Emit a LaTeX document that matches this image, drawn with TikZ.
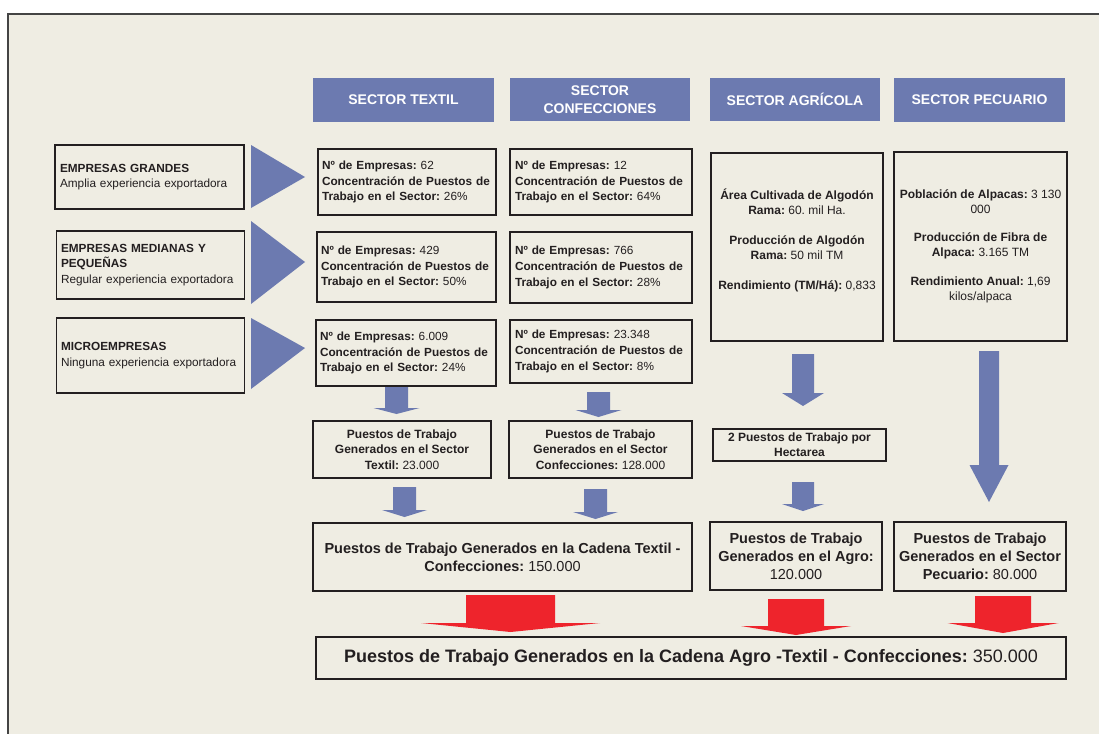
\documentclass[tikz,border=0pt]{standalone}
\usepackage{fontspec}
\setmainfont{Liberation Sans}
\definecolor{bg}{HTML}{EFEDE3}
\definecolor{ink}{HTML}{231F20}
\definecolor{frame}{HTML}{444444}
\definecolor{sblue}{HTML}{6C7AB0}
\definecolor{sred}{HTML}{EE242C}
\newcommand\blkarrow[7]{%
  \fill[#7] ({#1-#2},#4) -- ({#1+#2},#4) -- ({#1+#2},#5) -- ({#1+#3},#5) -- (#1,#6) -- ({#1-#3},#5) -- ({#1-#2},#5) -- cycle;}
\begin{document}
\frenchspacing
\begin{tikzpicture}[x=1pt,y=-1pt,
  box/.style={draw=ink, line width=1.3pt, inner sep=0pt, text=ink, font=\frenchspacing\fontsize{12}{15.6}\selectfont},
  lbox/.style={box, align=left, font=\frenchspacing\fontsize{11.8}{15.6}\selectfont},
  hdr/.style={fill=sblue, inner sep=0pt, text=white, align=center, font=\bfseries\fontsize{14}{18}\selectfont},
  bigbox/.style={box, align=center, font=\frenchspacing\fontsize{14.5}{18}\selectfont}]
\useasboundingbox (0,0) rectangle (1099,733);
\fill[white] (0,0) rectangle (1099,733);
\filldraw[fill=bg, draw=frame, line width=1.5pt] (8,14) rectangle (1120,760);

% headers
\node[hdr, minimum width=181pt, minimum height=44pt] (hT) at (403.5,100) {SECTOR TEXTIL};
\node[hdr, minimum width=180pt, minimum height=43pt] (hC) at (600,99.5) {SECTOR\\CONFECCIONES};
\node[hdr, minimum width=170pt, minimum height=43pt] (hA) at (795,99.5) {SECTOR AGRÍCOLA};
\node[hdr, minimum width=171pt, minimum height=44pt] (hP) at (979.5,100) {SECTOR PECUARIO};

% left boxes
\node[lbox, minimum width=189pt, minimum height=64pt, text width=179pt] (eG) at (149.5,177)
  {\textbf{EMPRESAS GRANDES}\\Amplia experiencia exportadora};
\node[lbox, minimum width=188pt, minimum height=68pt, text width=179pt] (eM) at (150.5,265)
  {\textbf{EMPRESAS MEDIANAS Y}\\\textbf{PEQUEÑAS}\\Regular experiencia exportadora};
\node[lbox, minimum width=188pt, minimum height=75pt, text width=179pt] (eP) at (150.5,355.5)
  {\textbf{MICROEMPRESAS}\\Ninguna experiencia exportadora};

% triangles
\fill[sblue] (251,145) -- (251,208) -- (305,177) -- cycle;
\fill[sblue] (251,221) -- (251,304) -- (305,262) -- cycle;
\fill[sblue] (251,318) -- (251,389) -- (305,348) -- cycle;

% textil column
\node[lbox, minimum width=178pt, minimum height=66pt, text width=170pt] (t1) at (407,182)
  {\textbf{Nº de Empresas:} 62\\\textbf{Concentración de Puestos de}\\\textbf{Trabajo en el Sector:} 26\%};
\node[lbox, minimum width=179pt, minimum height=70pt, text width=171pt] (t2) at (406.5,267)
  {\textbf{Nº de Empresas:} 429\\\textbf{Concentración de Puestos de}\\\textbf{Trabajo en el Sector:} 50\%};
\node[lbox, minimum width=180pt, minimum height=66pt, text width=172pt] (t3) at (406,353)
  {\textbf{Nº de Empresas:} 6.009\\\textbf{Concentración de Puestos de}\\\textbf{Trabajo en el Sector:} 24\%};

% confecciones column
\node[lbox, minimum width=182pt, minimum height=66pt, text width=172pt] (c1) at (601,182)
  {\textbf{Nº de Empresas:} 12\\\textbf{Concentración de Puestos de}\\\textbf{Trabajo en el Sector:} 64\%};
\node[lbox, minimum width=182pt, minimum height=71pt, text width=172pt] (c2) at (601,267.5)
  {\textbf{Nº de Empresas:} 766\\\textbf{Concentración de Puestos de}\\\textbf{Trabajo en el Sector:} 28\%};
\node[lbox, minimum width=182pt, minimum height=63pt, text width=172pt] (c3) at (601,351.5)
  {\textbf{Nº de Empresas:} 23.348\\\textbf{Concentración de Puestos de}\\\textbf{Trabajo en el Sector:} 8\%};

% agricola & pecuario
\node[box, minimum width=172pt, minimum height=188pt, align=center, font=\frenchspacing\fontsize{12}{15}\selectfont] (ag) at (797,247)
  {\textbf{Área Cultivada de Algodón}\\\textbf{Rama:} 60. mil Ha.\\[15pt]\textbf{Producción de Algodón}\\\textbf{Rama:} 50 mil TM\\[15pt]\textbf{Rendimiento (TM/Há):} 0,833\\[0pt]\mbox{}};
\node[box, minimum width=173pt, minimum height=189pt, align=center, font=\frenchspacing\fontsize{12}{14.5}\selectfont] (pe) at (980.5,246.5)
  {\textbf{Población de Alpacas:} 3 130\\000\\[14pt]\textbf{Producción de Fibra de}\\\textbf{Alpaca:} 3.165 TM\\[15pt]\textbf{Rendimiento Anual:} 1,69\\kilos/alpaca};

% puestos per sector
\node[box, minimum width=178pt, minimum height=57pt, align=center] (tp) at (402,449.5)
  {\textbf{Puestos de Trabajo}\\\textbf{Generados en el Sector}\\\textbf{Textil:} 23.000};
\node[box, minimum width=183pt, minimum height=57pt, align=center] (cp) at (600.5,449.5)
  {\textbf{Puestos de Trabajo}\\\textbf{Generados en el Sector}\\\textbf{Confecciones:} 128.000};
\node[box, minimum width=173pt, minimum height=32pt, align=center, font=\bfseries\fontsize{12}{15}\selectfont] (hect) at (799.5,445)
  {2 Puestos de Trabajo por\\Hectarea};

% totals
\node[bigbox, minimum width=379pt, minimum height=68pt] (cad) at (502.5,557)
  {\textbf{Puestos de Trabajo Generados en la Cadena Textil -}\\\textbf{Confecciones:} 150.000};
\node[bigbox, minimum width=172pt, minimum height=68pt] (agro) at (796,556)
  {\textbf{Puestos de Trabajo}\\\textbf{Generados en el Agro:}\\120.000};
\node[bigbox, minimum width=172pt, minimum height=69pt] (pec) at (980,556.5)
  {\textbf{Puestos de Trabajo}\\\textbf{Generados en el Sector}\\\textbf{Pecuario:} 80.000};
\node[box, minimum width=750pt, minimum height=42pt, font=\frenchspacing\fontsize{18}{21}\selectfont] (fin) at (691,658)
  {\textbf{Puestos de Trabajo Generados en la Cadena Agro -Textil - Confecciones:}\ 350.000};

% blue block arrows
\blkarrow{396.5}{11.5}{23}{387}{408}{414}{sblue}
\blkarrow{598.5}{11.5}{23}{392}{410}{417}{sblue}
\blkarrow{404.5}{11.5}{22.5}{487}{510}{517}{sblue}
\blkarrow{595.5}{11.5}{22.5}{489}{512}{519}{sblue}
\blkarrow{803}{11}{21}{354}{393}{406}{sblue}
\blkarrow{803}{11}{21}{482}{504}{511}{sblue}
\blkarrow{989}{10}{19.5}{351}{465}{502}{sblue}

% red block arrows
\blkarrow{510.5}{44.5}{89.5}{595}{623}{632}{sred}
\blkarrow{796}{28}{55}{599}{626}{635}{sred}
\blkarrow{1003}{28}{55.5}{596}{623}{633}{sred}
\end{tikzpicture}
\end{document}
